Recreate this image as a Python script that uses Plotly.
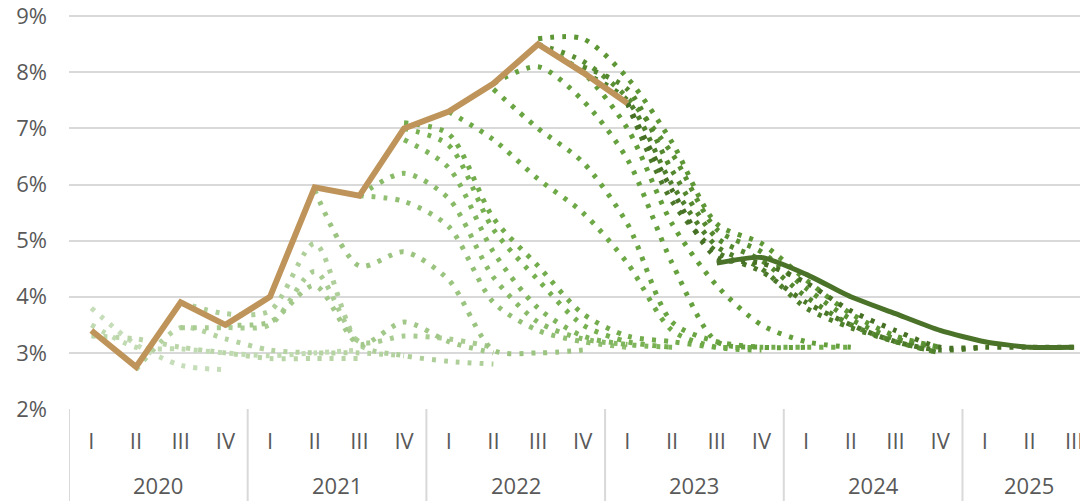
import plotly.graph_objects as go

# ---------------- data ----------------
quarter_labels = ["I", "II", "III", "IV"] * 5 + ["I", "II", "III"]
year_labels = ["2020", "2021", "2022", "2023", "2024", "2025"]
year_first_index = [0, 4, 8, 12, 16, 20]
year_last_index = [3, 7, 11, 15, 19, 22]
y_ticks = [2, 3, 4, 5, 6, 7, 8, 9]

# observed inflation (annual %, quarterly average)
actual = [3.4, 2.75, 3.9, 3.5, 4.0, 5.95, 5.8, 7.0, 7.3, 7.8, 8.5, 8.0, 7.45]

# latest forecast (solid)
latest_start = 14
latest = [4.6, 4.7, 4.4, 4.0, 3.7, 3.4, 3.2, 3.1, 3.1]

# earlier forecast vintages (dotted), oldest first: start quarter index + values
v01_start, v01 = 0, [3.8, 3.15, 2.78, 2.7]
v02_start, v02 = 0, [3.5, 3.1, 3.07, 3.0, 2.95, 3.0, 3.05]
v03_start, v03 = 0, [3.3, 3.25, 3.1, 3.0, 2.9, 2.9, 2.9]
v04_start, v04 = 1, [2.7, 3.45, 3.25, 3.05, 3.0, 3.0, 2.95]
v05_start, v05 = 2, [3.9, 3.7, 3.75, 4.95, 3.15, 2.95, 2.85, 2.8]
v06_start, v06 = 2, [3.45, 3.45, 3.5, 4.45, 3.2, 3.3, 3.25, 3.1]
v07_start, v07 = 3, [3.5, 3.55, 4.2, 3.15, 3.55, 3.2, 3.0]
v08_start, v08 = 5, [5.9, 4.55, 4.8, 4.3, 3.05, 3.0, 3.05]
v09_start, v09 = 6, [5.8, 5.7, 5.25, 3.9, 3.4, 3.2, 3.1]
v10_start, v10 = 6, [5.8, 6.2, 5.75, 4.35, 3.55, 3.25, 3.15]
v11_start, v11 = 7, [6.8, 6.3, 4.8, 3.8, 3.3, 3.15, 3.1]
v12_start, v12 = 7, [7.0, 6.7, 5.2, 4.3, 3.5, 3.2, 3.1]
v13_start, v13 = 7, [7.1, 6.9, 5.4, 4.55, 3.7, 3.3, 3.2, 3.1, 3.1, 3.1, 3.1]
v14_start, v14 = 8, [7.3, 6.8, 6.1, 5.5, 4.6, 3.4, 3.1, 3.05]
v15_start, v15 = 9, [7.7, 7.0, 6.4, 5.3, 3.55, 3.2, 3.1]
v16_start, v16 = 9, [7.8, 8.1, 7.5, 6.45, 4.6, 3.2, 3.1, 3.1]
v17_start, v17 = 10, [8.5, 8.0, 7.0, 5.3, 4.2, 3.5, 3.2, 3.1]
v18_start, v18 = 10, [8.6, 8.6, 7.9, 6.75, 5.3, 4.95, 4.3, 3.7, 3.3, 3.1]
v19_start, v19 = 10, [8.5, 8.2, 7.55, 6.55, 5.2, 4.8, 4.15, 3.6, 3.25, 3.1]
v20_start, v20 = 11, [8.1, 7.7, 6.25, 5.05, 4.65, 4.0, 3.5, 3.2, 3.0]
v21_start, v21 = 11, [8.0, 7.5, 6.0, 4.9, 4.5, 3.8, 3.45, 3.2, 3.0]
v22_start, v22 = 12, [7.45, 5.7, 4.8, 4.45, 3.9, 3.5, 3.2, 3.05, 3.1]
v23_start, v23 = 12, [7.45, 5.9, 4.7, 4.6, 4.25, 3.75, 3.4, 3.1, 3.1, 3.1, 3.1]

vintages = [
    (v01_start, v01), (v02_start, v02), (v03_start, v03), (v04_start, v04),
    (v05_start, v05), (v06_start, v06), (v07_start, v07), (v08_start, v08),
    (v09_start, v09), (v10_start, v10), (v11_start, v11), (v12_start, v12),
    (v13_start, v13), (v14_start, v14), (v15_start, v15), (v16_start, v16),
    (v17_start, v17), (v18_start, v18), (v19_start, v19), (v20_start, v20),
    (v21_start, v21), (v22_start, v22), (v23_start, v23),
]

# ---------------- styling ----------------
FONT = "Open Sans"
TEXT = "#595959"
GRID = "#d9d9d9"
TAN = "#be945a"
DARK = "#4b7229"

anchors = [(0.0, (198, 221, 185)), (0.3, (158, 198, 132)), (0.5, (118, 176, 80)),
           (0.75, (96, 156, 56)), (1.0, (70, 112, 36))]


def shade(t):
    for (t0, c0), (t1, c1) in zip(anchors[:-1], anchors[1:]):
        if t <= t1:
            f = (t - t0) / (t1 - t0) if t1 > t0 else 0
            return "rgb(%d,%d,%d)" % tuple(round(a + (b - a) * f) for a, b in zip(c0, c1))
    return "rgb(%d,%d,%d)" % anchors[-1][1]


fig = go.Figure()
n = len(vintages)
for i, (s, vals) in enumerate(vintages):
    fig.add_trace(go.Scatter(
        x=list(range(s, s + len(vals))), y=vals, mode="lines",
        line=dict(color=shade(i / (n - 1)), width=5, dash="4px,8px",
                  shape="spline", smoothing=0.8),
        hoverinfo="skip", showlegend=False))

fig.add_trace(go.Scatter(
    x=list(range(len(actual))), y=actual, mode="lines",
    line=dict(color=TAN, width=6), showlegend=False))

fig.add_trace(go.Scatter(
    x=list(range(latest_start, latest_start + len(latest))), y=latest, mode="lines",
    line=dict(color=DARK, width=5, shape="spline", smoothing=0.6), showlegend=False))

shapes = []
for first in year_first_index:
    shapes.append(dict(type="line", xref="x", yref="paper", x0=first - 0.5, x1=first - 0.5,
                       y0=0, y1=-0.24, line=dict(color=GRID, width=2)))

annotations = []
for lab, a, b in zip(year_labels, year_first_index, year_last_index):
    annotations.append(dict(text=lab, xref="x", yref="paper", x=(a + b) / 2, y=-0.193,
                            showarrow=False, yanchor="middle",
                            font=dict(family=FONT, size=22, color=TEXT)))

# the page body adds an 8px margin, so the figure is sized to fit inside it
fig.update_layout(
    width=1080, height=493,
    margin=dict(l=61, r=0, t=6, b=92, autoexpand=False),
    plot_bgcolor="white", paper_bgcolor="white",
    font=dict(family=FONT, size=22, color=TEXT),
    shapes=shapes, annotations=annotations,
    xaxis=dict(range=[-0.5, 22.31], tickvals=list(range(len(quarter_labels))),
               ticktext=quarter_labels, showgrid=False, zeroline=False, showline=False,
               ticks="", ticklabelstandoff=17, fixedrange=True, automargin=False),
    yaxis=dict(range=[2, 9.04], tickvals=y_ticks,
               ticktext=["%d%%" % v for v in y_ticks],
               showgrid=True, gridcolor=GRID, gridwidth=2, zeroline=False,
               showline=False, ticks="", ticklabelstandoff=21, fixedrange=True,
               automargin=False, ticklabeloverflow="allow"),
)

fig.write_html("out.html")
